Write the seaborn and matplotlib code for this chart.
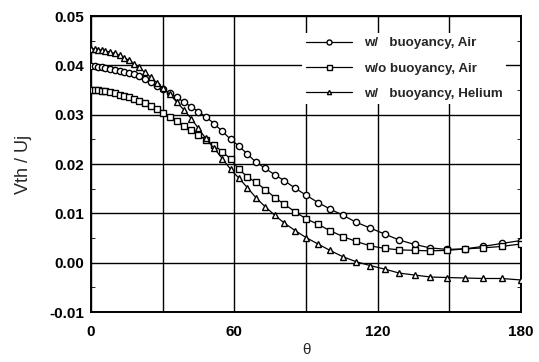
import matplotlib
matplotlib.use("Agg")
import matplotlib.pyplot as plt
import seaborn as sns
import pandas as pd
from matplotlib.ticker import MultipleLocator, FixedLocator

theta = [0, 1.5, 3, 4.5, 6, 8, 10, 12, 14, 16, 18, 20, 22.5, 25, 27.5, 30, 33, 36, 39, 42,
         45, 48, 51.5, 55, 58.5, 62, 65.5, 69, 73, 77, 81, 85.5, 90, 95, 100, 105.5, 111,
         117, 123, 129, 135.5, 142, 149, 156.5, 164, 172, 180]

air_buoy = [0.0398, 0.0398, 0.0397, 0.0396, 0.0395, 0.0393, 0.0391, 0.0389, 0.0387, 0.0385,
            0.0383, 0.0379, 0.0373, 0.0366, 0.0359, 0.0352, 0.0344, 0.0335, 0.0325, 0.0316,
            0.0306, 0.0296, 0.0282, 0.0266, 0.0250, 0.0236, 0.0220, 0.0204, 0.0191, 0.0178,
            0.0166, 0.0151, 0.0137, 0.0122, 0.0109, 0.0096, 0.0082, 0.0070, 0.0058, 0.0046,
            0.0037, 0.0030, 0.0027, 0.0028, 0.0033, 0.0039, 0.0045]

air_nobuoy = [0.0351, 0.0351, 0.0350, 0.0349, 0.0348, 0.0346, 0.0343, 0.0340, 0.0338, 0.0335,
              0.0332, 0.0328, 0.0323, 0.0318, 0.0311, 0.0304, 0.0296, 0.0287, 0.0278, 0.0269,
              0.0259, 0.0249, 0.0238, 0.0225, 0.0210, 0.0189, 0.0174, 0.0163, 0.0148, 0.0132,
              0.0118, 0.0103, 0.0089, 0.0078, 0.0065, 0.0053, 0.0043, 0.0034, 0.0029, 0.0026,
              0.0025, 0.0024, 0.0025, 0.0028, 0.0030, 0.0033, 0.0038]

helium_buoy = [0.0434, 0.0433, 0.0432, 0.0431, 0.0429, 0.0427, 0.0424, 0.0420, 0.0415, 0.0410,
               0.0403, 0.0396, 0.0386, 0.0376, 0.0365, 0.0354, 0.0341, 0.0325, 0.0309, 0.0292,
               0.0272, 0.0252, 0.0232, 0.0211, 0.0189, 0.0171, 0.0152, 0.0132, 0.0113, 0.0096,
               0.0080, 0.0065, 0.0051, 0.0038, 0.0025, 0.0012, 0.0002, -0.0006, -0.0013, -0.0021,
               -0.0025, -0.0029, -0.0030, -0.0031, -0.0032, -0.0032, -0.0035]

labels = ["w/   buoyancy, Air", "w/o buoyancy, Air", "w/   buoyancy, Helium"]
xticks = [0, 60, 120, 180]
yticks = [-0.01, 0.00, 0.01, 0.02, 0.03, 0.04, 0.05]

sns.set_style("white")
plt.rcParams["font.family"] = ["Liberation Sans", "DejaVu Sans"]

fig = plt.figure(figsize=(5.39, 3.62), dpi=100)
ax = fig.add_axes([0.1688, 0.138, 0.7978, 0.8178])

series = [(air_buoy, "o", 4.5), (air_nobuoy, "s", 4.5), (helium_buoy, "^", 3.8)]
for (vals, mk, ms), lab in zip(series, labels):
    df = pd.DataFrame({"theta": theta, "v": vals})
    sns.lineplot(data=df, x="theta", y="v", ax=ax, color="black", marker=mk,
                 markersize=ms, markerfacecolor="white", markeredgecolor="black",
                 markeredgewidth=1.0, linewidth=0.9, label=lab, sort=False,
                 errorbar=None, zorder=3)

ax.set_xlim(0, 180)
ax.set_ylim(-0.01, 0.05)
ax.xaxis.set_major_locator(FixedLocator(xticks))
ax.set_xticklabels([str(t) for t in xticks], fontweight="bold")
ax.yaxis.set_major_locator(FixedLocator(yticks))
ax.set_yticklabels([f"{t:.2f}" for t in yticks], fontweight="bold")
ax.yaxis.set_minor_locator(MultipleLocator(0.005))

for xv in range(0, 181, 30):
    ax.axvline(xv, color="black", linewidth=1.0, zorder=1)
for yv in yticks:
    ax.axhline(yv, color="black", linewidth=1.0, zorder=1)

for s in ax.spines.values():
    s.set_visible(True)
    s.set_color("black")
    s.set_linewidth(1.4)

ax.tick_params(axis="both", which="major", direction="in", length=0, labelsize=11,
               colors="black")
ax.tick_params(axis="x", which="major", pad=9)
ax.tick_params(axis="y", which="major", pad=5)
ax.tick_params(axis="y", which="minor", direction="in", length=3, left=True, right=True,
               color="black")

ax.set_xlabel("θ", fontsize=11, labelpad=3)
ax.set_ylabel("Vth / Uj", fontsize=13, labelpad=12)

leg = ax.legend(loc="upper left", bbox_to_anchor=(0.476, 0.965),
                prop={"size": 9.6, "weight": "bold"},
                frameon=True, framealpha=1, facecolor="white", edgecolor="none",
                handlelength=3.4, handletextpad=0.9, labelspacing=0.98,
                borderpad=0.3, fancybox=False, markerscale=0.8)
leg.set_zorder(5)

fig.savefig("out.png", dpi=100)
